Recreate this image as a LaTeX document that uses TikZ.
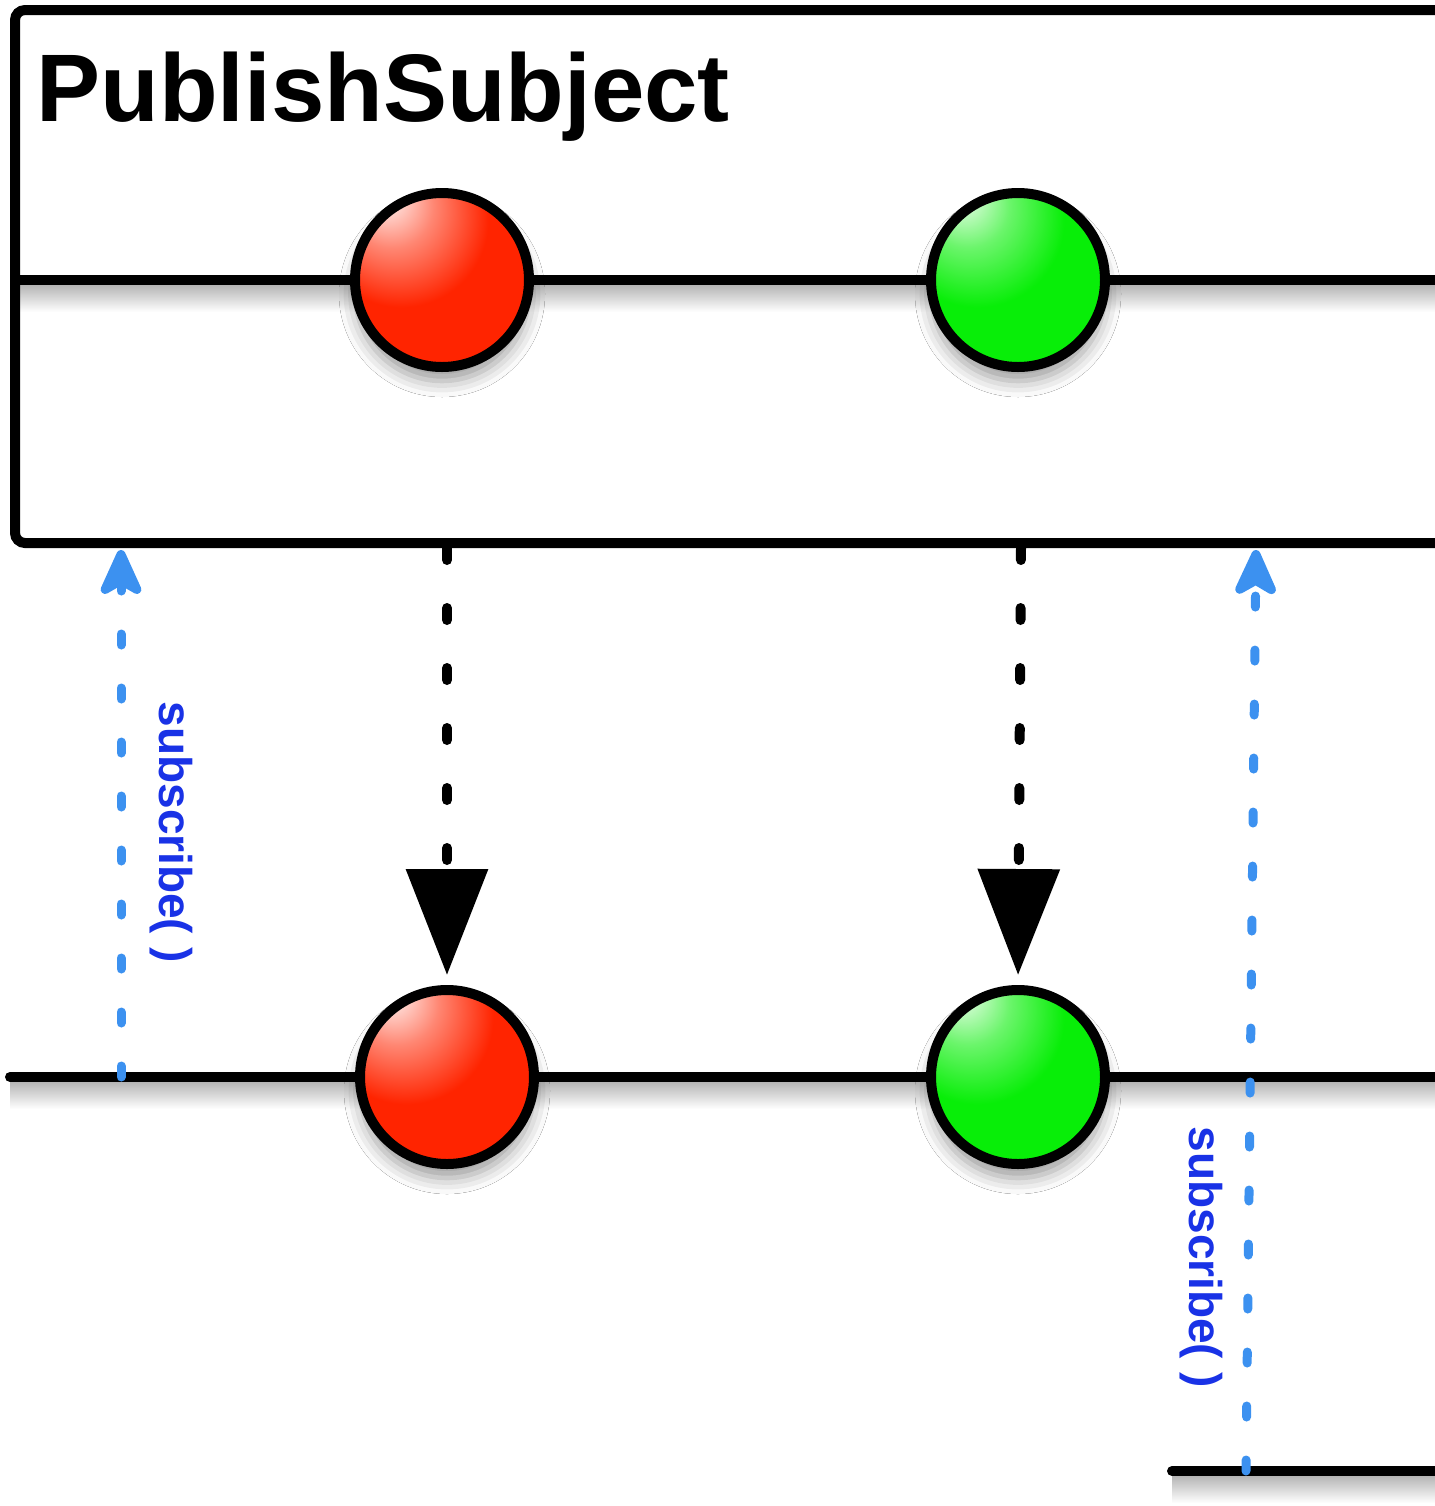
\documentclass[tikz,border=0pt]{standalone}
\usepackage{fontspec}
\setmainfont{Liberation Sans}
\usetikzlibrary{arrows.meta,shadows.blur}
\definecolor{subblue}{RGB}{60,145,240}
\definecolor{labelblue}{RGB}{25,50,230}
\definecolor{ballred}{RGB}{255,36,0}
\definecolor{ballgreen}{RGB}{8,238,8}
\pgfdeclareradialshading{redballsh}{\pgfpoint{-17bp}{25bp}}{%
  color(0bp)=(white); color(4bp)=(white!82!ballred); color(12bp)=(white!45!ballred);
  color(25bp)=(ballred); color(56bp)=(ballred); color(70bp)=(ballred!84!black); color(80bp)=(ballred!74!black)}
\pgfdeclareradialshading{greenballsh}{\pgfpoint{-17bp}{25bp}}{%
  color(0bp)=(white); color(4bp)=(white!78!ballgreen); color(12bp)=(white!40!ballgreen);
  color(25bp)=(ballgreen); color(56bp)=(ballgreen); color(70bp)=(ballgreen!84!black); color(80bp)=(ballgreen!72!black)}
\begin{document}
\begin{tikzpicture}[x=0.5pt,y=-0.5pt,
  tline/.style={line width=5pt, line cap=round},
  tshadow/.style={top color=black!30, bottom color=white, draw=none},
  ball/.style={circle, draw=black, line width=5pt, minimum size=87pt, inner sep=0pt,
    blur shadow={shadow xshift=0pt, shadow yshift=-7pt, shadow blur radius=8pt, shadow opacity=40}},
  redball/.style={ball, shading=redballsh},
  greenball/.style={ball, shading=greenballsh},
  emitarrow/.style={line width=5pt, line cap=round, dash pattern=on 6pt off 24pt, shorten >=5pt,
    -{Triangle[length=53pt,width=40pt]}},
  subarrow/.style={draw=subblue, line width=4.5pt, line cap=round, dash pattern=on 5.5pt off 21.5pt,
    -{Stealth[length=28pt,width=25pt,inset=7pt,round]}},
  sublabel/.style={text=labelblue, font=\fontsize{23}{26}\selectfont\bfseries, rotate=-90, inner sep=0pt},
]
\useasboundingbox (0,0) rectangle (1435,1506);
\clip (0,0) rectangle (1435,1506);
\fill[white] (0,0) rectangle (1435,1506);

% coordinates
\coordinate (boxTL) at (15,10);
\coordinate (boxBL) at (15,543);
\coordinate (boxTR) at (1460,10);
\coordinate (boxBR) at (1460,543);
\coordinate (upL) at (15,280);
\coordinate (upR) at (1460,280);
\coordinate (loL) at (10,1077);
\coordinate (loR) at (1460,1077);
\coordinate (l3L) at (1172,1471);
\coordinate (l3R) at (1460,1471);

% shadows of the time lines
\fill[tshadow] (15,284) rectangle (1435,312);
\fill[tshadow] (10,1081) rectangle (1435,1109);
\fill[tshadow] (1172,1475) rectangle (1435,1503);

% box
\draw[line width=5pt, rounded corners=5pt] (boxTR) -- (boxTL) -- (boxBL) -- (boxBR);

% title
\node[anchor=base west, inner sep=0pt, font=\fontsize{48}{52}\selectfont\bfseries] (title) at (36,121) {PublishSubject};

% time lines
\draw[tline] (upL) -- (upR);
\draw[tline] (loL) -- (loR);
\draw[tline] (l3L) -- (l3R);

% balls
\node[redball] (r1) at (442,280) {};
\node[greenball] (g1) at (1018,280) {};
\node[redball] (r2) at (447,1077) {};
\node[greenball] (g2) at (1018,1077) {};

% emission arrows
\coordinate (e1) at (447,548);
\coordinate (e2) at (1021,548);
\draw[emitarrow] (e1) -- (r2.north);
\draw[emitarrow] (e2) -- (g2.north);

% subscribe arrows
\coordinate (s1b) at (121,1077);
\coordinate (s1t) at (121,550);
\coordinate (s2b) at (1246,1471);
\coordinate (s2t) at (1256,550);
\draw[subarrow] (s1b) -- (s1t);
\draw[subarrow] (s2b) -- (s2t);

% labels
\node[sublabel] (lab1) at (171,832) {subscribe( )};
\node[sublabel] (lab2) at (1201,1257) {subscribe( )};
\end{tikzpicture}
\end{document}
